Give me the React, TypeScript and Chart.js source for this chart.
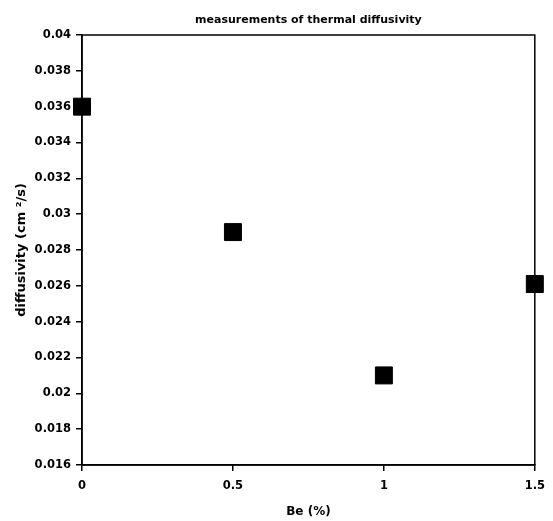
import React, { useEffect, useRef } from "react";
import { Chart, registerables } from "chart.js";

Chart.register(...registerables);

const beContent = [0, 0.5, 1, 1.5];
const diffusivity = [0.036, 0.029, 0.021, 0.0261];
const chartTitle = "measurements of thermal diffusivity";
const xTitle = "Be (%)";
const yTitle = "diffusivity (cm ²/s)";

const FONT = "'DejaVu Sans', sans-serif";

const boxPlugin = {
  id: "boxPlugin",
  afterDraw(chart: any) {
    const { ctx, chartArea } = chart;
    ctx.save();
    ctx.strokeStyle = "#000";
    ctx.lineWidth = 1.5;
    ctx.strokeRect(chartArea.left, chartArea.top, chartArea.right - chartArea.left, chartArea.bottom - chartArea.top);
    ctx.restore();
  },
};

export default function App() {
  const ref = useRef<HTMLCanvasElement | null>(null);
  useEffect(() => {
    if (!ref.current) return;
    const chart = new Chart(ref.current, {
      type: "scatter",
      data: {
        datasets: [
          {
            data: beContent.map((x, i) => ({ x, y: diffusivity[i] })),
            backgroundColor: "#000",
            borderColor: "#000",
            pointStyle: "rect",
            pointRadius: 12,
            pointHoverRadius: 12,
            clip: false as any,
          },
        ],
      },
      options: {
        animation: false,
        responsive: false,
        devicePixelRatio: 1,
        layout: { autoPadding: false, padding: { left: 0, right: 1.8, top: 0, bottom: 0 } },
        plugins: {
          legend: { display: false },
          tooltip: { enabled: false },
          title: {
            display: true,
            fullSize: false,
            text: chartTitle,
            color: "#000",
            font: { family: FONT, size: 11, weight: "bold" },
            padding: { top: 14, bottom: 7.8 },
          },
        },
        scales: {
          x: {
            type: "linear",
            min: 0,
            max: 1.5,
            afterFit: (s: any) => {
              s.height = 56;
            },
            ticks: {
              stepSize: 0.5,
              color: "#000",
              padding: 8,
              font: { family: FONT, size: 11.5, weight: "bold" },
              callback: (v: any) => String(+Number(v).toFixed(2)),
            },
            grid: { drawOnChartArea: false, drawTicks: true, tickLength: 6, color: "#000", lineWidth: 1.5 },
            border: { display: true, color: "#000", width: 1.5 },
            title: {
              display: true,
              text: xTitle,
              color: "#000",
              font: { family: FONT, size: 12, weight: "bold" },
              padding: { top: 4, bottom: 2 },
            },
          },
          y: {
            type: "linear",
            min: 0.016,
            max: 0.04,
            afterFit: (s: any) => {
              s.width = 82;
            },
            ticks: {
              stepSize: 0.002,
              color: "#000",
              padding: 5,
              font: { family: FONT, size: 11.5, weight: "bold" },
              callback: (v: any) => String(+Number(v).toFixed(3)),
            },
            grid: { drawOnChartArea: false, drawTicks: true, tickLength: 6, color: "#000", lineWidth: 1.5 },
            border: { display: true, color: "#000", width: 1.5 },
            title: {
              display: true,
              text: yTitle,
              color: "#000",
              font: { family: FONT, size: 13, weight: "bold" },
              padding: { top: 14, bottom: 0 },
            },
          },
        },
      },
      plugins: [boxPlugin],
    });
    return () => chart.destroy();
  }, []);
  return (
    <div style={{ position: "absolute", left: 0, top: 0, width: 553, height: 521, background: "#fff" }}>
      <canvas ref={ref} width={553} height={521} style={{ display: "block", width: 553, height: 521 }} />
    </div>
  );
}
